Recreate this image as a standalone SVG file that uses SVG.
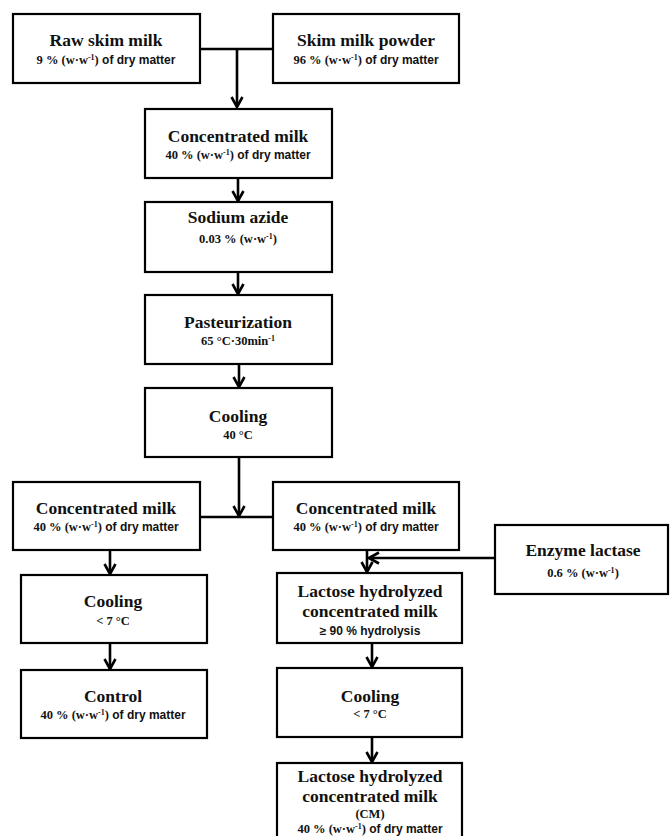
<svg xmlns="http://www.w3.org/2000/svg" width="670" height="836" viewBox="0 0 670 836">
<style>
.box{fill:#fff;stroke:#000;stroke-width:2.2}
.ln{fill:none;stroke:#000;stroke-width:2.6}
.t{font-family:"Liberation Serif",serif;font-weight:bold;font-size:17.5px;text-anchor:middle;fill:#111}
.s{font-family:"Liberation Serif",serif;font-weight:bold;font-size:12.5px;text-anchor:middle;fill:#111}
.ss{font-family:"Liberation Sans",Arial,sans-serif;font-size:12px;font-weight:bold}
.sup{font-size:8px}
</style>
<defs>
<marker id="ah" viewBox="0 0 14 14" refX="12" refY="7" markerWidth="14" markerHeight="14" markerUnits="userSpaceOnUse" orient="auto">
<polyline points="2,1.5 12,7 2,12.5" fill="none" stroke="#000" stroke-width="2.6"/>
</marker>
</defs>
<g id="connectors">
<path class="ln" d="M200,49 H273"/>
<path class="ln" d="M237,49 V107" marker-end="url(#ah)"/>
<path class="ln" d="M238,178 V201" marker-end="url(#ah)"/>
<path class="ln" d="M238,272 V294" marker-end="url(#ah)"/>
<path class="ln" d="M239,364 V387" marker-end="url(#ah)"/>
<path class="ln" d="M200,517 H273"/>
<path class="ln" d="M239,457 V516" marker-end="url(#ah)"/>
<path class="ln" d="M110,550 V574" marker-end="url(#ah)"/>
<path class="ln" d="M110,643 V669" marker-end="url(#ah)"/>
<path class="ln" d="M367,550 V572" marker-end="url(#ah)"/>
<path class="ln" d="M495,558 H369" marker-end="url(#ah)"/>
<path class="ln" d="M372,643 V667" marker-end="url(#ah)"/>
<path class="ln" d="M372,737 V762" marker-end="url(#ah)"/>
</g>
<g id="raw">
<rect class="box" x="13" y="14" width="187" height="69"/>
<text class="t" x="106" y="46">Raw skim milk</text>
<text class="s" x="106" y="64">9 % (w·w<tspan class="sup" dy="-4">-1</tspan><tspan dy="4">)</tspan><tspan class="ss"> of dry matter</tspan></text>
</g>
<g id="powder">
<rect class="box" x="273" y="14" width="186" height="69"/>
<text class="t" x="366" y="46">Skim milk powder</text>
<text class="s" x="366" y="64">96 % (w·w<tspan class="sup" dy="-4">-1</tspan><tspan dy="4">)</tspan><tspan class="ss"> of dry matter</tspan></text>
</g>
<g id="conc1">
<rect class="box" x="145" y="109" width="187" height="69"/>
<text class="t" x="238" y="142">Concentrated milk</text>
<text class="s" x="238" y="159">40 % (w·w<tspan class="sup" dy="-4">-1</tspan><tspan dy="4">)</tspan><tspan class="ss"> of dry matter</tspan></text>
</g>
<g id="azide">
<rect class="box" x="145" y="202" width="187" height="70"/>
<text class="t" x="238" y="223">Sodium azide</text>
<text class="s" x="238" y="243">0.03 % (w·w<tspan class="sup" dy="-4">-1</tspan><tspan dy="4">)</tspan></text>
</g>
<g id="past">
<rect class="box" x="145" y="295" width="187" height="69"/>
<text class="t" x="238" y="328">Pasteurization</text>
<text class="s" x="238" y="345">65 °C·30min<tspan class="sup" dy="-4">-1</tspan></text>
</g>
<g id="cool40">
<rect class="box" x="145" y="388" width="187" height="69"/>
<text class="t" x="238" y="422">Cooling</text>
<text class="s" x="238" y="439">40 °C</text>
</g>
<g id="concL">
<rect class="box" x="13" y="482" width="187" height="68"/>
<text class="t" x="106" y="514">Concentrated milk</text>
<text class="s" x="106" y="531">40 % (w·w<tspan class="sup" dy="-4">-1</tspan><tspan dy="4">)</tspan><tspan class="ss"> of dry matter</tspan></text>
</g>
<g id="concR">
<rect class="box" x="273" y="482" width="186" height="68"/>
<text class="t" x="366" y="514">Concentrated milk</text>
<text class="s" x="366" y="531">40 % (w·w<tspan class="sup" dy="-4">-1</tspan><tspan dy="4">)</tspan><tspan class="ss"> of dry matter</tspan></text>
</g>
<g id="enzyme">
<rect class="box" x="495" y="525" width="173" height="69"/>
<text class="t" x="583" y="556">Enzyme lactase</text>
<text class="s" x="583" y="577">0.6 % (w·w<tspan class="sup" dy="-4">-1</tspan><tspan dy="4">)</tspan></text>
</g>
<g id="coolL">
<rect class="box" x="21" y="575" width="186" height="68"/>
<text class="t" x="113" y="607">Cooling</text>
<text class="s" x="113" y="625">&lt; 7 °C</text>
</g>
<g id="control">
<rect class="box" x="21" y="670" width="186" height="68"/>
<text class="t" x="113" y="702">Control</text>
<text class="s" x="113" y="719">40 % (w·w<tspan class="sup" dy="-4">-1</tspan><tspan dy="4">)</tspan><tspan class="ss"> of dry matter</tspan></text>
</g>
<g id="lhcm">
<rect class="box" x="277" y="573" width="185" height="70"/>
<text class="t" x="370" y="597">Lactose hydrolyzed</text>
<text class="t" x="370" y="617">concentrated milk</text>
<text class="s" x="370" y="635"><tspan class="ss">≥ 90 % hydrolysis</tspan></text>
</g>
<g id="coolR">
<rect class="box" x="277" y="668" width="185" height="69"/>
<text class="t" x="370" y="702">Cooling</text>
<text class="s" x="370" y="718">&lt; 7 °C</text>
</g>
<g id="cm">
<rect class="box" x="277" y="763" width="185" height="80"/>
<text class="t" x="370" y="782">Lactose hydrolyzed</text>
<text class="t" x="370" y="802">concentrated milk</text>
<text class="s" x="370" y="818">(CM)</text>
<text class="s" x="370" y="833">40 % (w·w<tspan class="sup" dy="-4">-1</tspan><tspan dy="4">)</tspan><tspan class="ss"> of dry matter</tspan></text>
</g>
</svg>
